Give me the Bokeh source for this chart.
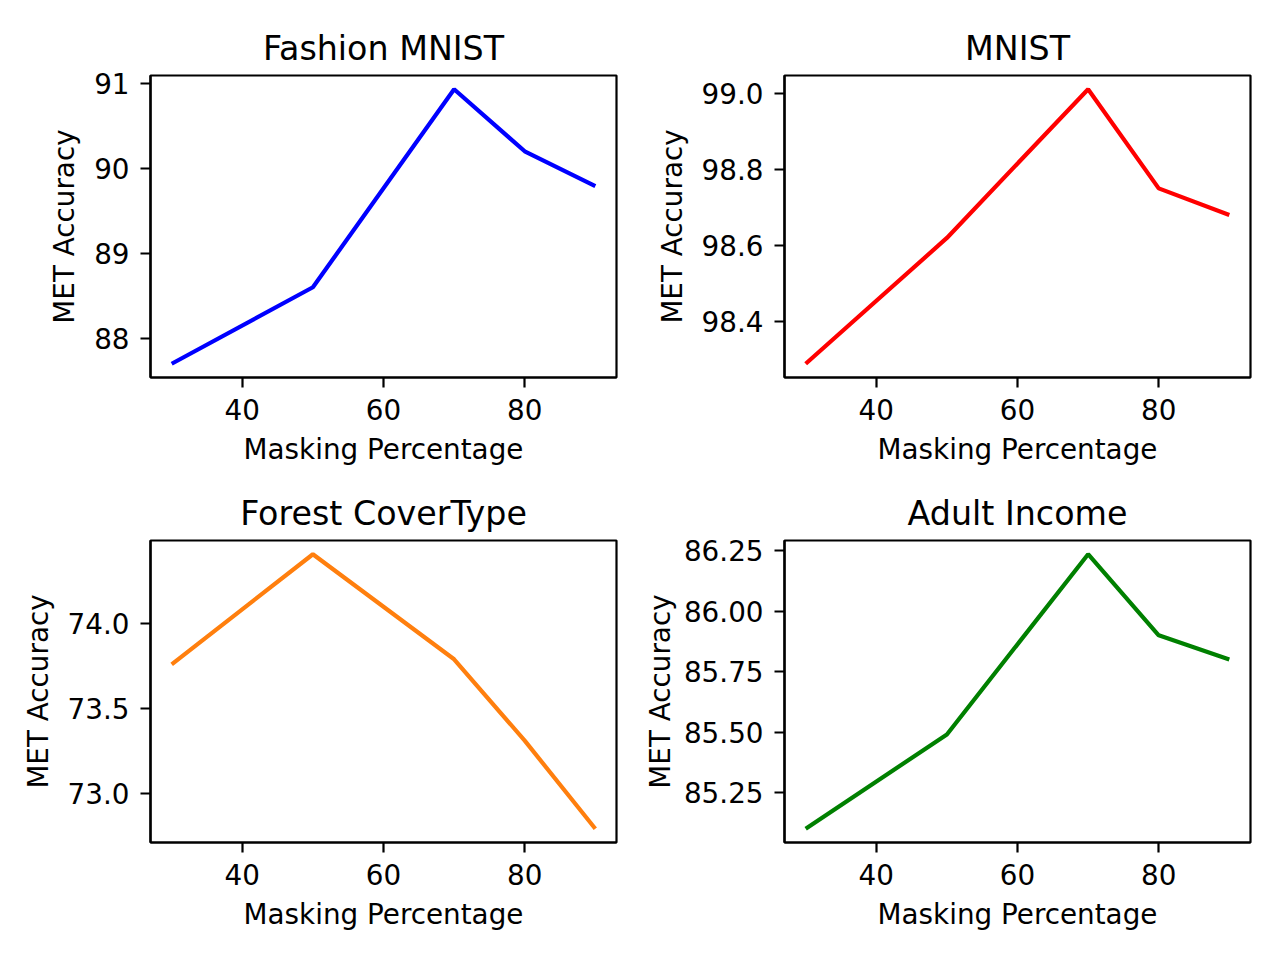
from bokeh.plotting import figure
from bokeh.layouts import column, row
from bokeh.models import Range1d, FixedTicker, PrintfTickFormatter
from bokeh.embed import file_html
from bokeh.resources import INLINE

# ---- data ----
masking = [30, 50, 70, 80, 90]
fashion_acc = [87.70, 88.60, 90.93, 90.20, 89.79]
mnist_acc = [98.29, 98.62, 99.01, 98.75, 98.68]
forest_acc = [73.76, 74.41, 73.79, 73.31, 72.79]
adult_acc = [85.10, 85.49, 86.235, 85.90, 85.80]

x_ticks = [40, 60, 80]
fashion_ticks = [88, 89, 90, 91]
mnist_ticks = [98.4, 98.6, 98.8, 99.0]
forest_ticks = [73.0, 73.5, 74.0]
adult_ticks = [85.25, 85.50, 85.75, 86.00, 86.25]

titles = ["Fashion MNIST", "MNIST", "Forest CoverType", "Adult Income"]
x_label = "Masking Percentage"
y_label = "MET Accuracy"

FONT = "DejaVu Sans"
TICK_PX = "27.8px"
TITLE_PX = "33.3px"


def padded(vals):
    lo, hi = min(vals), max(vals)
    s = hi - lo
    return lo - 0.05 * s, hi + 0.05 * s


def make(title, y, color, yticks, fmt, ml, mr, mt, mb, ylab_standoff=10):
    x0, x1 = padded(masking)
    y0, y1 = padded(y)
    p = figure(frame_width=466, frame_height=302, output_backend="svg",
               toolbar_location=None,
               x_range=Range1d(x0, x1), y_range=Range1d(y0, y1),
               min_border_left=ml, min_border_right=mr,
               min_border_top=mt, min_border_bottom=mb)
    p.line(masking, y, line_color=color, line_width=4.2)
    p.title.text = title
    p.title.align = "center"
    p.title.text_font = FONT
    p.title.text_font_size = TITLE_PX
    p.title.text_font_style = "normal"
    p.title.text_color = "black"
    p.title.standoff = 16
    p.xgrid.visible = False
    p.ygrid.visible = False
    p.outline_line_color = "black"
    p.outline_line_width = 2.2
    p.outline_line_alpha = 1.0
    p.background_fill_color = "white"
    p.border_fill_color = "white"
    p.xaxis.ticker = FixedTicker(ticks=x_ticks)
    p.yaxis.ticker = FixedTicker(ticks=yticks)
    p.xaxis.formatter = PrintfTickFormatter(format="%d")
    p.yaxis.formatter = PrintfTickFormatter(format=fmt)
    p.xaxis.axis_label = x_label
    p.yaxis.axis_label = y_label
    for ax in (p.xaxis[0], p.yaxis[0]):
        ax.axis_line_color = "black"
        ax.axis_line_width = 2.2
        ax.major_tick_line_color = "black"
        ax.major_tick_line_width = 2.2
        ax.major_tick_out = 10
        ax.major_tick_in = 0
        ax.minor_tick_line_color = None
        ax.major_label_text_font = FONT
        ax.major_label_text_font_size = TICK_PX
        ax.major_label_text_color = "black"
        ax.major_label_standoff = 11
        ax.axis_label_text_font = FONT
        ax.axis_label_text_font_size = TICK_PX
        ax.axis_label_text_font_style = "normal"
        ax.axis_label_text_color = "black"
        ax.axis_label_standoff = 10
    p.yaxis[0].axis_label_standoff = ylab_standoff
    return p


p1 = make(titles[0], fashion_acc, "#0000ff", fashion_ticks, "%d", 150, 32, 75, 93)
p2 = make(titles[1], mnist_acc, "#ff0000", mnist_ticks, "%.1f", 136, 14, 75, 93)
p3 = make(titles[2], forest_acc, "#ff7f0e", forest_ticks, "%.1f", 150, 24, 70, 102)
p4 = make(titles[3], adult_acc, "#008000", adult_ticks, "%.2f", 136, 14, 70, 102,
          ylab_standoff=4)

layout = column(row(p1, p2, spacing=0), row(p3, p4, spacing=0), spacing=0)

open("out.html", "w").write(file_html(layout, INLINE))
